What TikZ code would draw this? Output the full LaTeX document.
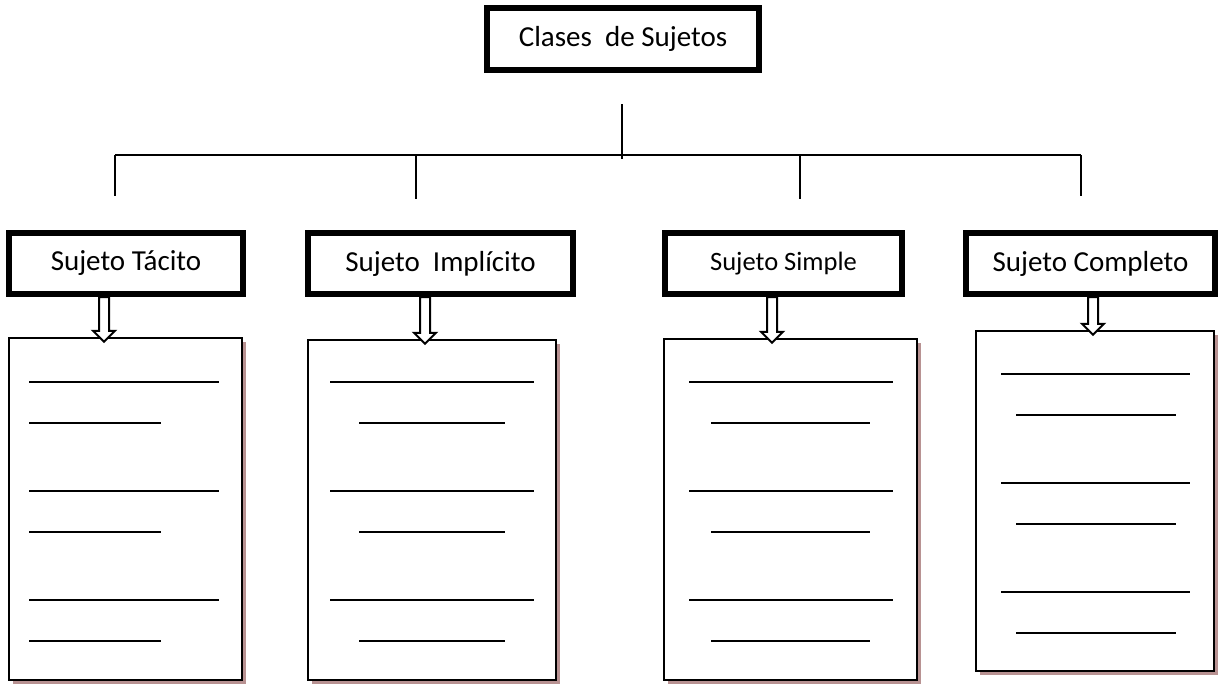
\documentclass[tikz,border=0pt]{standalone}
\usepackage{fontspec}
\setmainfont{Carlito}
\usepackage{tikz}
\usetikzlibrary{calc}
\usetikzlibrary{shadows}
\definecolor{shadowrose}{RGB}{184,146,146}

\tikzset{
  heading/.style={draw, line width=6pt, minimum height=62pt, inner sep=0pt,
    font=\fontsize{29}{35}\selectfont},
  subject/.style={draw, line width=6pt, minimum height=61pt, inner sep=0pt,
    font=\fontsize{29}{35}\selectfont},
  sheet/.style={draw, line width=2.5pt, fill=white, inner sep=0pt,
    drop shadow={shadow xshift=4pt, shadow yshift=-4pt, fill=shadowrose, opacity=1}},
  branch/.style={line width=1.5pt},
  blank/.style={line width=2pt},
  hollow/.style={draw, line width=2pt, fill=white, line join=miter}
}

% hollow block arrow: x position, upper node, lower node
\newcommand{\hollowdown}[3]{%
  \draw[hollow] let \p1 = (#2.south), \p2 = (#3.north) in
    (#1pt-5pt, \y1) -- (#1pt+5pt, \y1) -- (#1pt+5pt, \y2+6pt)
    -- (#1pt+11pt, \y2+6pt) -- (#1pt, \y2-5pt) -- (#1pt-11pt, \y2+6pt)
    -- (#1pt-5pt, \y2+6pt) -- cycle;}

\begin{document}
\begin{tikzpicture}[x=1pt, y=-1pt]
    \useasboundingbox (0,0) rectangle (1218,685);

    \node (clases) [heading, minimum width=272pt] at (623, 39) {Clases\ \ de Sujetos};

    \node (tacito) [subject, minimum width=234pt] at (126, 263.5) {Sujeto T\'acito};
    \node (implicito) [subject, minimum width=265pt] at (440.5, 263.5) {Sujeto\ \ Impl\'icito};
    \node (simple) [subject, minimum width=237pt, font=\fontsize{26.5}{32}\selectfont]
      at (783.5, 263.5) {Sujeto Simple};
    \node (completo) [subject, minimum width=249pt] at (1090.5, 263.5) {Sujeto Completo};

    \node (hojaT) [sheet, minimum width=233pt, minimum height=342pt] at (125.5, 509) {};
    \node (hojaI) [sheet, minimum width=248pt, minimum height=340pt] at (432, 510) {};
    \node (hojaS) [sheet, minimum width=253pt, minimum height=341pt] at (790.5, 509.5) {};
    \node (hojaC) [sheet, minimum width=238pt, minimum height=340pt] at (1095, 501) {};

    % tree
    \coordinate (stem) at (622, 104);
    \coordinate (hub) at (622, 159);
    \coordinate (bar) at (622, 155);
    \coordinate (dropT) at (115, 196);
    \coordinate (dropI) at (416, 199);
    \coordinate (dropS) at (800, 199);
    \coordinate (dropC) at (1081, 196);
    \draw [branch] (stem) -- (hub);
    \draw [branch] (dropT |- bar) -- (dropC |- bar);
    \foreach \d in {dropT, dropI, dropS, dropC}
      \draw [branch] (\d |- bar) -- (\d);

    \hollowdown{104}{tacito}{hojaT}
    \hollowdown{425}{implicito}{hojaI}
    \hollowdown{772}{simple}{hojaS}
    \hollowdown{1093}{completo}{hojaC}

    % blank lines to fill in
    \foreach \a/\b/\c/\e in {29/219/29/161, 330/534/359/505, 689/893/711/870}
      \foreach \y in {382, 491, 600} {
        \draw [blank] (\a, \y) -- (\b, \y);
        \draw [blank] (\c, \y+41) -- (\e, \y+41);
      }
    \foreach \y in {374, 483, 592} {
      \draw [blank] (1001, \y) -- (1190, \y);
      \draw [blank] (1016, \y+41) -- (1176, \y+41);
    }
\end{tikzpicture}
\end{document}
